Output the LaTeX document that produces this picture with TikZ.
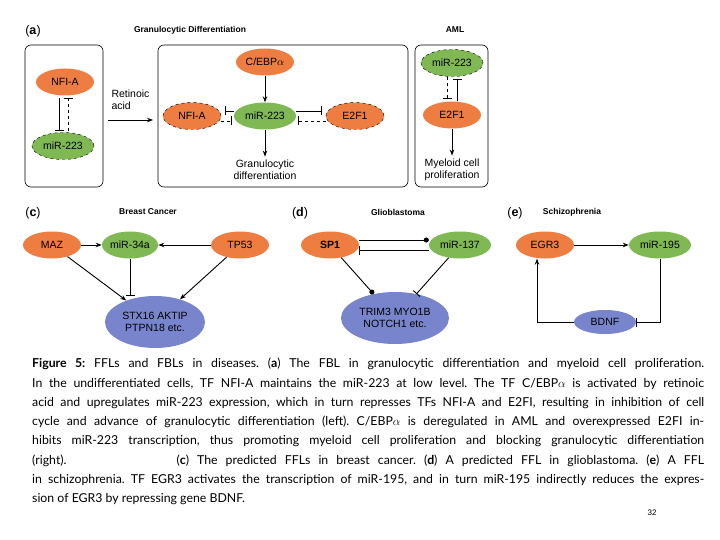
\documentclass[tikz,border=0pt]{standalone}
\usepackage{fontspec}
\setmainfont{Liberation Sans}
\newfontfamily\capfont{Lato}
\usetikzlibrary{arrows.meta,positioning,shapes.geometric}
\definecolor{tforange}{RGB}{237,125,64}
\definecolor{mirgreen}{RGB}{128,184,84}
\definecolor{genblue}{RGB}{120,132,204}
\begin{document}
\begin{tikzpicture}[x=1pt,y=-1pt,font=\fontsize{10.5}{12}\selectfont,
  tf/.style={ellipse,fill=tforange,minimum width=58pt,minimum height=27pt,inner sep=0pt},
  mir/.style={ellipse,fill=mirgreen,minimum width=62pt,minimum height=27pt,inner sep=0pt},
  gene/.style={ellipse,fill=genblue,inner sep=0pt},
  dsh/.style={draw=black,dashed},
  act/.style={-{Stealth[length=6pt]},line width=0.9pt},
  inh/.style={-{Bar[width=9pt]},line width=0.9pt},
  dot/.style={-{Circle[length=5pt]},line width=0.9pt},
  panel/.style={draw,rounded corners=6pt,line width=0.6pt},
  ttl/.style={font=\fontsize{8.5}{10}\selectfont\bfseries},
  lbl/.style={font=\fontsize{12.5}{14}\selectfont}]
\useasboundingbox (0,0) rectangle (720,540);
% panel (a)
\node[lbl] (la) at (33,31) {(\textbf{a})};
\node[ttl] (ta) at (190,30) {Granulocytic Differentiation};
\node[ttl] (taml) at (455,30) {AML};
\draw[panel] (25,45) rectangle (103,187);
\draw[panel] (158,45) rectangle (408,187);
\draw[panel] (415,45) rectangle (488,187);
\node[tf] (nfa) at (65,82) {NFI-A};
\node[mir,dsh] (mra) at (63,146) {miR-223};
\coordinate (a1) at (59,98);
\coordinate (a2) at (59,131);
\coordinate (a3) at (68,131);
\coordinate (a4) at (68,98);
\draw[inh] (a1) -- (a2);
\draw[inh,dashed] (a3) -- (a4);
\node[align=left,anchor=west] (ra) at (108,100) {Retinoic\\acid};
\coordinate (rs) at (108,120);
\coordinate (re) at (153,120);
\draw[act] (rs) -- (re);
\node[tf] (ceb) at (265,62) {C/EBP$\alpha$};
\node[mir] (mrb) at (265,116) {miR-223};
\node[tf,dsh] (nfb) at (192,116) {NFI-A};
\node[tf,dsh] (e2b) at (355,116) {E2F1};
\draw[act] (ceb) -- (mrb);
\node[align=center] (gd) at (265,170) {Granulocytic\\differentiation};
\draw[act] (mrb) -- (gd);
\draw[inh] ([yshift=5pt]mrb.west) -- ([xshift=4pt,yshift=5pt]nfb.east);
\draw[inh,dashed] ([yshift=-5pt]nfb.east) -- ([xshift=-2pt,yshift=-5pt]mrb.west);
\draw[inh] ([yshift=5pt]mrb.east) -- ([xshift=-4pt,yshift=5pt]e2b.west);
\draw[inh,dashed] ([yshift=-5pt]e2b.west) -- ([xshift=2pt,yshift=-5pt]mrb.east);
\node[mir,dsh] (mrc) at (452,63) {miR-223};
\node[tf] (e2c) at (452,115) {E2F1};
\draw[inh,dashed] ([xshift=-5pt]mrc.south) -- ([xshift=-5pt,yshift=2pt]e2c.north);
\draw[inh] ([xshift=5pt]e2c.north) -- ([xshift=5pt,yshift=-2pt]mrc.south);
\node[align=center] (mp) at (452,170) {Myeloid cell\\proliferation};
\draw[act] (e2c) -- (mp);
% panel (c)
\node[lbl] (lc) at (33,213) {(\textbf{c})};
\node[ttl] (tc) at (148,212) {Breast Cancer};
\node[tf] (maz) at (52,245) {MAZ};
\node[mir,minimum width=56pt] (m34) at (130,245) {miR-34a};
\node[tf] (tp) at (240,245) {TP53};
\node[gene,minimum width=100pt,minimum height=52pt,align=center] (stx) at (155,322) {STX16 AKTIP\\PTPN18 etc.};
\draw[act] (maz) -- (m34);
\draw[act] (tp) -- (m34);
\draw[act] (maz) -- (stx);
\draw[act] (tp) -- (stx);
\draw[inh] (m34) -- (m34 |- stx.north);
% panel (d)
\node[lbl] (ld) at (300,213) {(\textbf{d})};
\node[ttl] (td) at (398,212) {Glioblastoma};
\node[tf,font=\fontsize{10.5}{12}\selectfont\bfseries] (sp) at (330,245) {SP1};
\node[mir] (m137) at (460,245) {miR-137};
\node[gene,minimum width=108pt,minimum height=52pt,align=center] (trim) at (395,318) {TRIM3 MYO1B\\NOTCH1 etc.};
\draw[dot] ([yshift=5pt]sp.east) -- ([yshift=5pt]m137.west);
\draw[inh] ([yshift=-5pt]m137.west) -- ([yshift=-5pt]sp.east);
\draw[dot] (sp) -- (trim);
\draw[inh] (m137) -- (trim);
% panel (e)
\node[lbl] (le) at (515,213) {(\textbf{e})};
\node[ttl] (te) at (572,212) {Schizophrenia};
\node[tf] (egr) at (545,245) {EGR3};
\node[mir] (m195) at (660,245) {miR-195};
\node[gene,minimum width=62pt,minimum height=24pt] (bdnf) at (605,322) {BDNF};
\draw[act] (egr) -- (m195);
\draw[inh] (m195.south) |- (bdnf.east);
\draw[act] (bdnf.west) -| ([xshift=-8pt]egr.south);
% caption
\node[anchor=north west,text width=672pt,align=justify,inner sep=0pt,
  font=\capfont\fontsize{12.3}{19.3}\selectfont\frenchspacing] (cap) at (32,358)
 {\textbf{Figure 5:} FFLs and FBLs in diseases. (\textbf{a}) The FBL in granulocytic differentiation and myeloid cell proliferation.\linebreak
In the undifferentiated cells, TF NFI-A maintains the miR-223 at low level. The TF C/EBP$\alpha$ is activated by retinoic\linebreak
acid and upregulates miR-223 expression, which in turn represses TFs NFI-A and E2FI, resulting in inhibition of cell\linebreak
cycle and advance of granulocytic differentiation (left). C/EBP$\alpha$ is deregulated in AML and overexpressed E2FI in-\linebreak
hibits miR-223 transcription, thus promoting myeloid cell proliferation and blocking granulocytic differentiation\linebreak
(right).\hspace{110pt}(\textbf{c}) The predicted FFLs in breast cancer. (\textbf{d}) A predicted FFL in glioblastoma. (\textbf{e}) A FFL\linebreak
in schizophrenia. TF EGR3 activates the transcription of miR-195, and in turn miR-195 indirectly reduces the expres-\linebreak
sion of EGR3 by repressing gene BDNF.\par};
\node[font=\fontsize{8}{9}\selectfont] (pg) at (652,513) {32};
\end{tikzpicture}
\end{document}
